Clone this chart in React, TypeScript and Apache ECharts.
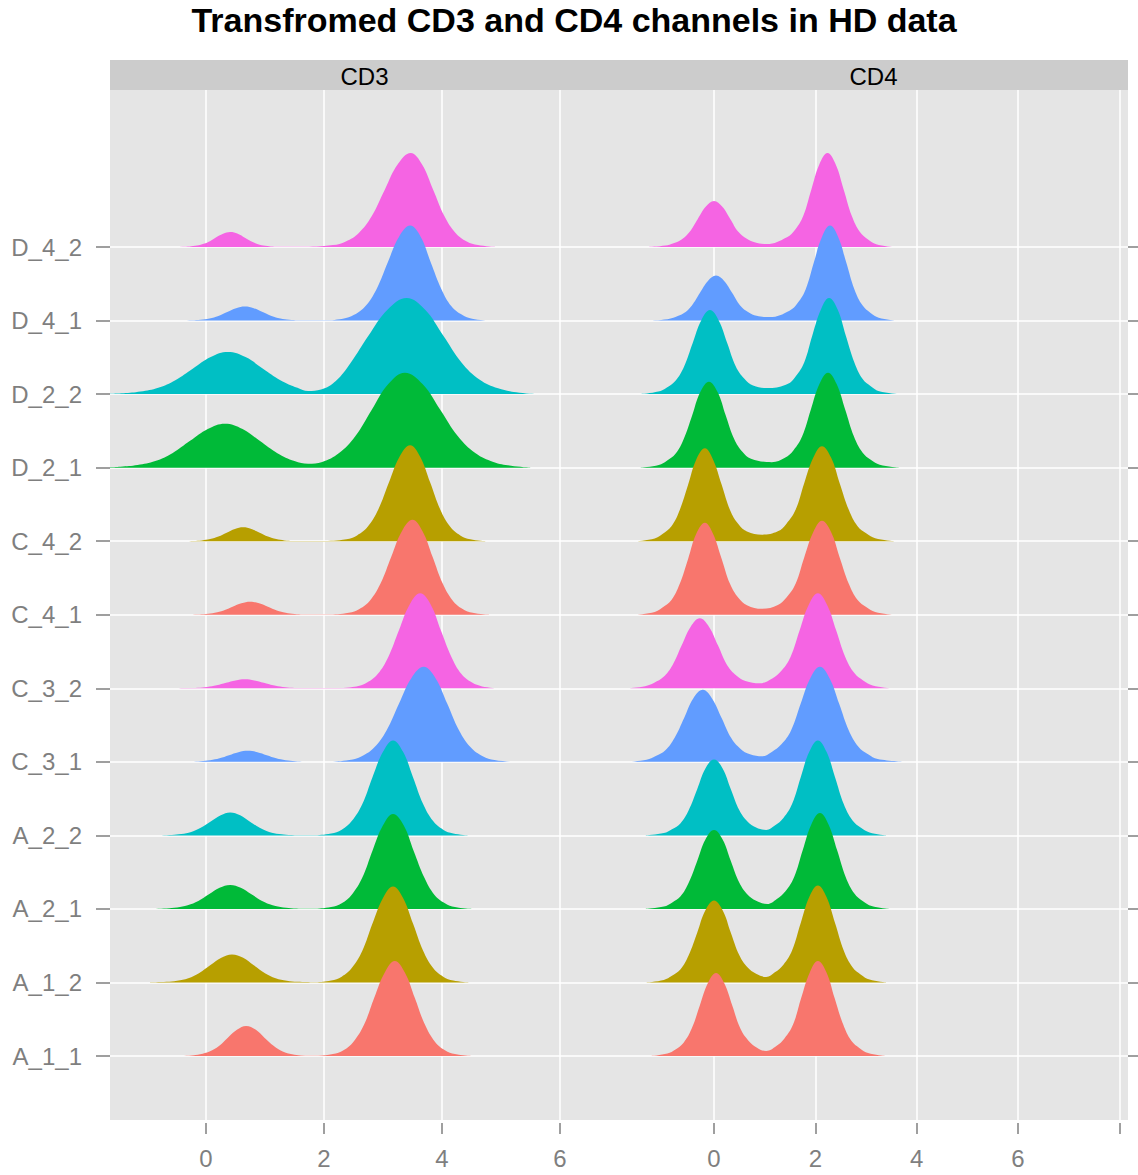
import { useEffect, useRef } from "react";
import * as echarts from "echarts";

// Sample labels (bottom to top)
const ROWS = ["A_1_1", "A_1_2", "A_2_1", "A_2_2", "C_3_1", "C_3_2", "C_4_1", "C_4_2", "D_2_1", "D_2_2", "D_4_1", "D_4_2"];
const PANELS = ["CD3", "CD4"];
const CD3_TICKS = [0, 2, 4, 6];
const CD3_LABELS = [0, 2, 4, 6];
const CD4_TICKS = [0, 2, 4, 6, 8];
const CD4_LABELS = [0, 2, 4, 6];

// Density curves, [x, density] pairs, one list per row (ROWS order)
const CD3_CURVES: number[][][] = [
  // A_1_1
  [[-0.5,0],[-0.25,0.6],[-0.1,1.8],[0.06,4.5],[0.22,9.9],[0.37,18.3],[0.53,26.4],[0.68,30],[0.84,26.4],[0.99,18.3],[1.15,9.9],[1.3,4.5],[1.46,1.8],[1.61,0.6],[1.9,0.2],[2.15,1.9],[2.33,5.7],[2.5,14.3],[2.68,31.4],[2.85,58],[3.03,83.6],[3.2,95],[3.37,83.6],[3.54,58],[3.71,31.4],[3.88,14.3],[4.05,5.7],[4.22,1.9],[4.5,0]],
  // A_1_2
  [[-0.95,0],[-0.67,0.6],[-0.49,1.7],[-0.3,4.2],[-0.12,9.2],[0.07,17.1],[0.26,24.6],[0.44,28],[0.63,24.6],[0.81,17.1],[1,9.2],[1.18,4.2],[1.37,1.7],[1.55,0.6],[1.85,0.2],[2.12,1.9],[2.3,5.8],[2.47,14.4],[2.65,31.7],[2.82,58.6],[3,84.5],[3.17,96],[3.34,84.5],[3.51,58.6],[3.68,31.7],[3.85,14.4],[4.02,5.8],[4.19,1.9],[4.45,0]],
  // A_2_1
  [[-0.95,0],[-0.67,0.5],[-0.49,1.4],[-0.31,3.6],[-0.13,7.9],[0.05,14.6],[0.23,21.1],[0.41,24],[0.59,21.1],[0.77,14.6],[0.95,7.9],[1.13,3.6],[1.31,1.4],[1.49,0.5],[1.8,0.2],[2.12,1.9],[2.3,5.7],[2.47,14.3],[2.65,31.4],[2.82,58],[3,83.6],[3.17,95],[3.35,83.6],[3.52,58],[3.7,31.4],[3.87,14.3],[4.05,5.7],[4.22,1.9],[4.5,0]],
  // A_2_2
  [[-0.85,0],[-0.58,0.5],[-0.42,1.4],[-0.25,3.5],[-0.09,7.6],[0.08,14],[0.25,20.2],[0.41,23],[0.58,20.2],[0.74,14],[0.91,7.6],[1.07,3.5],[1.24,1.4],[1.4,0.5],[1.8,0.2],[2.12,1.9],[2.3,5.7],[2.47,14.3],[2.65,31.4],[2.82,58],[3,83.6],[3.17,95],[3.34,83.6],[3.51,58],[3.68,31.4],[3.85,14.3],[4.02,5.7],[4.19,1.9],[4.45,0]],
  // C_3_1
  [[-0.5,0],[-0.25,0.2],[-0.09,0.7],[0.07,1.7],[0.23,3.6],[0.39,6.7],[0.55,9.7],[0.71,11],[0.87,9.7],[1.03,6.7],[1.19,3.6],[1.35,1.7],[1.51,0.7],[1.67,0.2],[2.05,0.2],[2.43,1.9],[2.64,5.7],[2.85,14.3],[3.06,31.4],[3.27,58],[3.48,83.6],[3.69,95],[3.89,83.6],[4.09,58],[4.29,31.4],[4.49,14.3],[4.69,5.7],[4.89,1.9],[5.2,0]],
  // C_3_2
  [[-0.55,0],[-0.3,0.2],[-0.14,0.5],[0.02,1.4],[0.18,3],[0.34,5.5],[0.5,7.9],[0.66,9],[0.82,7.9],[0.98,5.5],[1.14,3],[1.3,1.4],[1.46,0.5],[1.62,0.2],[2.1,0.2],[2.55,1.9],[2.73,5.7],[2.91,14.3],[3.09,31.4],[3.27,58],[3.45,83.6],[3.63,95],[3.81,83.6],[3.98,58],[4.16,31.4],[4.33,14.3],[4.51,5.7],[4.68,1.9],[4.95,0]],
  // C_4_1
  [[-0.4,0],[-0.15,0.3],[0,0.8],[0.15,2],[0.3,4.3],[0.45,7.9],[0.6,11.4],[0.75,13],[0.9,11.4],[1.05,7.9],[1.2,4.3],[1.35,2],[1.5,0.8],[1.65,0.3],[2.05,0.2],[2.42,1.9],[2.6,5.7],[2.78,14.3],[2.96,31.4],[3.14,58],[3.32,83.6],[3.5,95],[3.67,83.6],[3.84,58],[4.01,31.4],[4.18,14.3],[4.35,5.7],[4.52,1.9],[4.8,0]],
  // C_4_2
  [[-0.45,0],[-0.21,0.3],[-0.07,0.8],[0.07,2.1],[0.21,4.6],[0.35,8.5],[0.49,12.3],[0.63,14],[0.77,12.3],[0.91,8.5],[1.05,4.6],[1.19,2.1],[1.33,0.8],[1.47,0.3],[1.95,0.2],[2.38,1.9],[2.56,5.8],[2.74,14.4],[2.92,31.7],[3.1,58.6],[3.28,84.5],[3.46,96],[3.63,84.5],[3.8,58.6],[3.97,31.7],[4.14,14.4],[4.31,5.8],[4.48,1.9],[4.75,0]],
  // D_2_1
  [[-1.63,0.3],[-1.45,0.9],[-1.16,2.6],[-0.86,6.6],[-0.57,14.5],[-0.27,26.8],[0.03,38.7],[0.32,44],[0.62,38.7],[0.91,26.8],[1.21,14.5],[1.5,6.6],[1.73,4],[1.97,5.7],[2.25,14.3],[2.53,31.4],[2.81,58],[3.09,83.6],[3.37,95],[3.67,83.6],[3.97,58],[4.27,31.4],[4.57,14.3],[4.87,5.7],[5.17,1.9],[5.5,0]],
  // D_2_2
  [[-1.63,0.3],[-1.4,0.8],[-1.11,2.5],[-0.81,6.3],[-0.52,13.9],[-0.22,25.6],[0.08,37],[0.37,42],[0.67,37],[0.96,25.6],[1.26,13.9],[1.55,6.3],[1.73,3],[1.95,4.5],[2.2,13],[2.45,31],[2.75,58],[3.08,84.5],[3.4,96],[3.71,84.5],[4.02,58.6],[4.33,31.7],[4.64,14.4],[4.95,5.8],[5.26,1.9],[5.6,0]],
  // D_4_1
  [[-0.5,0],[-0.24,0.3],[-0.09,0.8],[0.06,2.1],[0.21,4.6],[0.36,8.5],[0.51,12.3],[0.66,14],[0.81,12.3],[0.96,8.5],[1.11,4.6],[1.26,2.1],[1.41,0.8],[1.56,0.3],[1.95,0.2],[2.32,1.9],[2.51,5.7],[2.7,14.3],[2.89,31.4],[3.08,58],[3.27,83.6],[3.46,95],[3.64,83.6],[3.81,58],[3.99,31.4],[4.16,14.3],[4.34,5.7],[4.51,1.9],[4.8,0]],
  // D_4_2
  [[-0.7,0],[-0.34,0.3],[-0.22,0.9],[-0.09,2.3],[0.04,5],[0.16,9.2],[0.29,13.2],[0.41,15],[0.54,13.2],[0.66,9.2],[0.79,5],[0.91,2.3],[1.04,0.9],[1.16,0.3],[1.6,0.2],[2.15,1.9],[2.37,5.6],[2.59,14.1],[2.81,31],[3.03,57.3],[3.25,82.7],[3.47,94],[3.66,82.7],[3.85,57.3],[4.04,31],[4.23,14.1],[4.42,5.6],[4.61,1.9],[4.9,0]],
];

const CD4_CURVES: number[][][] = [
  // A_1_1
  [[-1.25,0],[-0.92,2.5],[-0.76,6.6],[-0.6,13.3],[-0.44,27.4],[-0.28,50.6],[-0.12,73],[0.04,83],[0.2,73],[0.36,50.6],[0.52,27.4],[0.68,15.3],[0.84,8.6],[1.03,5],[1.23,9.9],[1.39,17.5],[1.56,31.4],[1.72,58],[1.89,83.6],[2.05,95],[2.22,83.6],[2.38,58],[2.55,31.4],[2.71,15.2],[2.88,7.6],[3.04,2.9],[3.37,0]],
  // A_1_2
  [[-1.35,0],[-0.99,2.5],[-0.83,6.6],[-0.66,13.1],[-0.5,27.1],[-0.33,50],[-0.17,72.2],[0,82],[0.17,72.2],[0.33,50],[0.5,27.1],[0.66,15.1],[0.83,8.6],[1.03,5.5],[1.2,10.1],[1.37,17.8],[1.54,32],[1.71,59.2],[1.88,85.4],[2.05,97],[2.22,85.4],[2.39,59.2],[2.56,32],[2.73,15.5],[2.9,7.8],[3.07,2.9],[3.4,0]],
  // A_2_1
  [[-1.35,0],[-0.99,2.4],[-0.83,6.3],[-0.66,12.6],[-0.5,26.1],[-0.33,48.2],[-0.17,69.5],[0,79],[0.17,69.5],[0.33,48.2],[0.5,26.1],[0.66,14.5],[0.83,8.2],[1.05,5],[1.24,10],[1.41,17.7],[1.58,31.7],[1.75,58.6],[1.92,84.5],[2.09,96],[2.26,84.5],[2.43,58.6],[2.6,31.7],[2.77,15.4],[2.94,7.7],[3.11,2.9],[3.45,0]],
  // A_2_2
  [[-1.35,0],[-0.99,2.3],[-0.83,6.1],[-0.66,12.2],[-0.5,25.1],[-0.33,46.4],[-0.17,66.9],[0,76],[0.17,66.9],[0.33,46.4],[0.5,25.1],[0.66,14],[0.83,7.9],[1.03,5.5],[1.2,9.9],[1.37,17.5],[1.54,31.4],[1.71,58],[1.88,83.6],[2.05,95],[2.22,83.6],[2.39,58],[2.56,31.4],[2.73,15.2],[2.9,7.6],[3.07,2.9],[3.4,0]],
  // C_3_1
  [[-1.7,0],[-1.33,2.2],[-1.15,5.8],[-0.96,11.5],[-0.78,23.8],[-0.59,43.9],[-0.41,63.4],[-0.22,72],[-0.04,63.4],[0.15,43.9],[0.34,23.8],[0.52,13.2],[0.71,7.5],[0.95,5.5],[1.14,9.9],[1.33,17.5],[1.52,31.4],[1.71,58],[1.9,83.6],[2.09,95],[2.28,83.6],[2.47,58],[2.66,31.4],[2.85,15.2],[3.04,7.6],[3.23,2.9],[3.8,0]],
  // C_3_2
  [[-1.7,0],[-1.36,2.1],[-1.18,5.6],[-1,11.2],[-0.82,23.1],[-0.64,42.7],[-0.46,61.6],[-0.28,70],[-0.1,61.6],[0.08,42.7],[0.26,23.1],[0.44,12.9],[0.62,7.3],[0.9,5],[1.15,9.9],[1.33,17.5],[1.51,31.4],[1.69,58],[1.87,83.6],[2.05,95],[2.23,83.6],[2.41,58],[2.59,31.4],[2.77,15.2],[2.95,7.6],[3.13,2.9],[3.5,0]],
  // C_4_1
  [[-1.55,0],[-1.17,2.8],[-1.01,7.4],[-0.84,14.7],[-0.68,30.4],[-0.51,56.1],[-0.35,81],[-0.18,92],[-0.02,81],[0.15,56.1],[0.32,30.4],[0.48,16.9],[0.65,9.6],[0.95,6],[1.26,9.8],[1.43,17.3],[1.61,31],[1.78,57.3],[1.96,82.7],[2.13,94],[2.31,82.7],[2.48,57.3],[2.66,31],[2.83,15],[3.01,7.5],[3.18,2.8],[3.55,0]],
  // C_4_2
  [[-1.55,0],[-1.17,2.8],[-1.01,7.4],[-0.84,14.9],[-0.68,30.7],[-0.51,56.7],[-0.35,81.8],[-0.18,93],[-0.02,81.8],[0.15,56.7],[0.32,30.7],[0.48,17.1],[0.65,9.6],[0.95,6.5],[1.26,9.9],[1.43,17.5],[1.61,31.4],[1.78,58],[1.96,83.6],[2.13,95],[2.31,83.6],[2.48,58],[2.66,31.4],[2.83,15.2],[3.01,7.6],[3.18,2.9],[3.55,0]],
  // D_2_1
  [[-1.45,0],[-1.09,2.6],[-0.93,6.9],[-0.76,13.8],[-0.6,28.4],[-0.43,52.5],[-0.27,75.7],[-0.1,86],[0.07,75.7],[0.23,52.5],[0.4,28.4],[0.56,15.9],[0.73,9],[1.14,5.5],[1.4,9.9],[1.57,17.5],[1.74,31.4],[1.91,58],[2.08,83.6],[2.25,95],[2.42,83.6],[2.59,58],[2.76,31.4],[2.93,15.2],[3.1,7.6],[3.27,2.9],[3.65,0]],
  // D_2_2
  [[-1.45,0],[-1.1,2.5],[-0.93,6.7],[-0.76,13.4],[-0.59,27.7],[-0.42,51.2],[-0.25,73.9],[-0.08,84],[0.09,73.9],[0.26,51.2],[0.43,27.7],[0.6,15.4],[0.77,8.7],[1.1,6],[1.45,10],[1.61,17.7],[1.78,31.7],[1.94,58.6],[2.11,84.5],[2.27,96],[2.44,84.5],[2.6,58.6],[2.77,31.7],[2.93,15.4],[3.1,7.7],[3.26,2.9],[3.65,0]],
  // D_4_1
  [[-1.3,0],[-0.92,1.4],[-0.76,3.6],[-0.6,7.2],[-0.44,14.9],[-0.28,27.5],[-0.12,39.6],[0.04,45],[0.2,39.6],[0.36,27.5],[0.52,14.9],[0.68,8.3],[0.84,4.7],[1.1,3.5],[1.49,9.9],[1.65,17.5],[1.81,31.4],[1.97,58],[2.13,83.6],[2.29,95],[2.45,83.6],[2.61,58],[2.77,31.4],[2.93,15.2],[3.09,7.6],[3.25,2.9],[3.6,0]],
  // D_4_2
  [[-1.3,0],[-0.96,1.4],[-0.8,3.7],[-0.64,7.4],[-0.48,15.2],[-0.32,28.1],[-0.16,40.5],[0,46],[0.16,40.5],[0.32,28.1],[0.48,15.2],[0.64,8.5],[0.8,4.8],[1.04,3],[1.44,9.8],[1.6,17.3],[1.76,31],[1.92,57.3],[2.08,82.7],[2.24,94],[2.4,82.7],[2.56,57.3],[2.72,31],[2.88,15],[3.04,7.5],[3.2,2.8],[3.55,0]],
];

const TITLE = "Transfromed CD3 and CD4 channels in HD data";

// styling
const PALETTE = ["#F8766D", "#B79F00", "#00BA38", "#00BFC4", "#619CFF", "#F564E3"];
const FONT = "'Liberation Sans', Arial, Helvetica, sans-serif";
const DENSITY_PER_ROW = 73.55;
const GRAY = "#7F7F7F";

export default function App() {
  const ref = useRef<HTMLDivElement>(null);
  useEffect(() => {
    if (!ref.current) return;
    const chart = echarts.init(ref.current, undefined, { renderer: "svg" });
    const rowValues = ROWS.map((_, i) => i + 1);
    const series: any[] = [];
    [CD3_CURVES, CD4_CURVES].forEach((curves, p) => {
      for (let i = ROWS.length - 1; i >= 0; i--) {
        const base = i + 1;
        series.push({
          type: "line",
          name: PANELS[p] + " " + ROWS[i],
          xAxisIndex: p,
          yAxisIndex: p,
          data: curves[i].map(([x, d]) => [x, base + d / DENSITY_PER_ROW]),
          smooth: 0.4,
          symbol: "none",
          showSymbol: false,
          silent: true,
          lineStyle: { width: 0, opacity: 0 },
          areaStyle: { color: PALETTE[i % 6], opacity: 1, origin: base },
        });
      }
    });
    const grids = [
      { left: 110, top: 90, width: 509, height: 1030 },
      { left: 619, top: 90, width: 509, height: 1030 },
    ];
    const xRanges = [
      [-1.627, 7.0],
      [-1.875, 8.17],
    ];
    const xTicks = [CD3_TICKS, CD4_TICKS];
    const xLabels = [CD3_LABELS, CD4_LABELS];
    const option: any = {
      animation: false,
      backgroundColor: "#ffffff",
      textStyle: { fontFamily: FONT },
      grid: grids.map((g) => ({ ...g, show: true, backgroundColor: "#E5E5E5", borderWidth: 0 })),
      xAxis: [0, 1].map((p) => ({
        type: "value",
        gridIndex: p,
        min: xRanges[p][0],
        max: xRanges[p][1],
        position: "bottom",
        offset: 3,
        axisLine: { show: false, onZero: false },
        axisTick: { show: true, length: 11, customValues: xTicks[p], lineStyle: { color: GRAY, width: 1.5 } },
        axisLabel: { customValues: xLabels[p], color: GRAY, fontSize: 24, margin: 23, fontFamily: FONT },
        splitLine: { show: true, lineStyle: { color: "#ffffff", width: 1.5 } },
      })),
      yAxis: [0, 1].map((p) => ({
        type: "value",
        gridIndex: p,
        min: 0.13,
        max: 14.135,
        position: p === 0 ? "left" : "right",
        axisLine: { show: false, onZero: false },
        axisTick: { show: true, length: p === 0 ? 14 : 10, customValues: rowValues, lineStyle: { color: GRAY, width: 1.5 } },
        axisLabel: {
          show: p === 0,
          customValues: rowValues,
          formatter: (v: number) => ROWS[Math.round(v) - 1] ?? "",
          color: GRAY,
          fontSize: 24,
          margin: 28,
          fontFamily: FONT,
        },
        splitLine: { show: true, lineStyle: { color: "#ffffff", width: 1.5 } },
      })),
      graphic: [
        {
          type: "text",
          x: 574,
          y: 20,
          style: { text: TITLE, font: `bold 34px ${FONT}`, fill: "#000", textAlign: "center", textVerticalAlign: "middle" },
        },
        ...PANELS.flatMap((name, p) => [
          { type: "rect", shape: { x: grids[p].left, y: 60, width: grids[p].width, height: 30 }, style: { fill: "#CCCCCC" } },
          {
            type: "text",
            x: grids[p].left + grids[p].width / 2,
            y: 76,
            style: { text: name, font: `24px ${FONT}`, fill: "#000", textAlign: "center", textVerticalAlign: "middle" },
          },
        ]),
      ],
      series,
    };
    chart.setOption(option);
    return () => chart.dispose();
  }, []);
  return <div ref={ref} style={{ position: "absolute", left: 0, top: 0, width: 1138, height: 1175 }} />;
}
